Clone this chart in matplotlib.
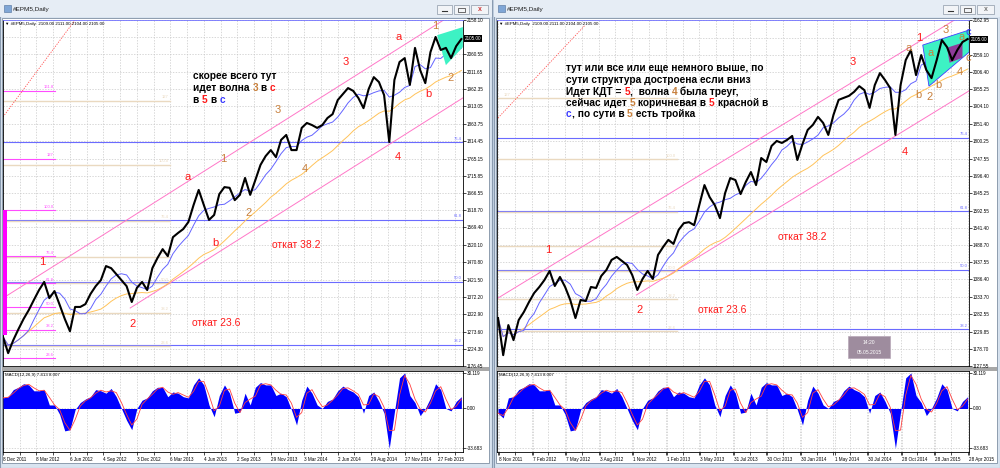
import numpy as np
import pandas as pd
import matplotlib
matplotlib.use("Agg")
import matplotlib.pyplot as plt
from matplotlib.patches import Rectangle, Polygon

plt.rcParams["font.family"] = ["Liberation Sans", "DejaVu Sans"]

W, H = 1000, 468
STEP = 10        # bars between two read values
PXB = 0.515      # screen pixels per bar

# ---- closes, one value every 10 bars ----
left_close = [1259, 1213, 1250, 1281, 1310, 1335, 1364, 1392, 1415, 1369,
              1389, 1350, 1310, 1275, 1344, 1344, 1352, 1381, 1403, 1420,
              1460, 1454, 1437, 1420, 1403, 1358, 1398, 1415, 1392, 1454,
              1483, 1508, 1488, 1542, 1554, 1565, 1585, 1633, 1676, 1633,
              1591, 1605, 1664, 1684, 1682, 1647, 1662, 1710, 1662, 1704,
              1747, 1772, 1789, 1769, 1818, 1832, 1789, 1789, 1852, 1866,
              1860, 1852, 1860, 1880, 1891, 1931, 1948, 1965, 1957, 1937,
              1908, 1962, 1996, 1982, 1945, 1812, 1988, 2039, 2050, 1974,
              2079, 2016, 1979, 2067, 2110, 2073, 2079, 2050, 2084, 2104]

right_close = [1271, 1160, 1250, 1205, 1265, 1289, 1319, 1346, 1364, 1385,
               1412, 1367, 1394, 1364, 1325, 1271, 1325, 1322, 1364, 1361,
               1397, 1415, 1445, 1454, 1442, 1430, 1400, 1355, 1388, 1412,
               1388, 1460, 1484, 1505, 1493, 1535, 1555, 1558, 1549, 1609,
               1669, 1633, 1609, 1570, 1645, 1690, 1684, 1642, 1678, 1708,
               1669, 1750, 1738, 1786, 1801, 1795, 1804, 1816, 1744, 1792,
               1834, 1849, 1873, 1855, 1819, 1879, 1924, 1930, 1936, 1948,
               1965, 1953, 1900, 1968, 2004, 1983, 1959, 1819, 1968, 2043,
               2073, 1998, 2058, 2013, 1989, 2043, 2103, 2082, 2043, 2073,
               2097, 2106]

left_macd = [9, 10, 16, 18, 21, 20, 15, 15, 16, 3,
             3, -5, -19, -18, -1, 5, 8, 10, 16, 15,
             13, 17, 10, 0, -10, -18, 0, 7, 9, 15,
             18, 18, 10, 14, 13, 10, 9, 20, 26, 20,
             3, -7, 11, 20, 13, -4, -3, 13, 3, 18,
             22, 20, 20, 11, 13, 10, -1, -14, 7, 19,
             13, 3, 0, 6, 8, 15, 19, 16, 14, 10,
             -4, 11, 14, 6, -4, -33.7, -3, 26, 30.1, 11,
             5, -6, 0, 9, 21, 16, 0, -2, 6, 10]

right_macd = [-4, -8, 9, 10, 16, 18, 21, 20, 15, 15,
              16, 3, 3, -5, -19, -18, -1, 5, 8, 10,
              16, 15, 13, 17, 10, 0, -10, -18, 0, 7,
              9, 15, 18, 18, 10, 14, 13, 10, 9, 20,
              26, 20, 3, -7, 11, 20, 13, -4, -3, 13,
              3, 18, 22, 20, 20, 11, 13, 10, -1, -14,
              7, 19, 13, 3, 0, 6, 8, 15, 19, 16,
              14, 10, -4, 11, 14, 6, -4, -33.7, -3, 26,
              30.1, 11, 5, -6, 0, 9, 21, 16, 0, -2,
              6, 10]

left_dates = ["8 Dec 2011", "8 Mar 2012", "6 Jun 2012", "4 Sep 2012", "3 Dec 2012",
              "6 Mar 2013", "4 Jun 2013", "2 Sep 2013", "29 Nov 2013", "3 Mar 2014",
              "2 Jun 2014", "29 Aug 2014", "27 Nov 2014", "27 Feb 2015"]
right_dates = ["8 Nov 2011", "7 Feb 2012", "7 May 2012", "3 Aug 2012", "1 Nov 2012",
               "1 Feb 2013", "3 May 2013", "31 Jul 2013", "30 Oct 2013", "30 Jan 2014",
               "1 May 2014", "30 Jul 2014", "28 Oct 2014", "28 Jan 2015", "28 Apr 2015"]

left_price_ticks = [2158.10, 2109.80, 2060.55, 2011.65, 1962.35, 1913.05, 1863.75,
                    1814.45, 1765.15, 1715.85, 1666.55, 1618.70, 1569.40, 1520.10,
                    1470.80, 1421.50, 1372.20, 1322.90, 1273.60, 1224.30, 1176.45]
right_price_ticks = [2162.95, 2110.25, 2059.10, 2006.40, 1955.25, 1904.10, 1851.40,
                     1800.25, 1747.55, 1696.40, 1645.25, 1592.55, 1541.40, 1488.70,
                     1437.55, 1386.40, 1333.70, 1282.55, 1229.85, 1178.70, 1127.55]
last_price = 2105.00
macd_ticks = [30.119, 0.0, -33.683]

blue_levels = [1811, 1591, 1416, 1237]
blue_names = ["76.4", "61.8", "50.0", "38.2"]
beige_levels = [1929, 1747, 1589, 1487, 1411, 1328, 1232]
beige_names = ["127", "100.0", "76.4", "61.8", "50.0", "38.2", "23.6"]
magenta_levels = [1957, 1764, 1619, 1488, 1412, 1344, 1279, 1199]
magenta_names = ["161.8", "127", "100.0", "76.4", "61.8", "50.0", "38.2", "23.6"]

# trend lines drawn on the charts: (bar, price) end points
left_channel = [[(0, 1369), (862, 2164)], [(247, 1341), (893, 1937)]]
right_channel = [[(0, 1331), (891, 2169)], [(268, 1340), (915, 1953)]]
left_dotted = [(0, 1883), (150, 2178)]
right_dotted = [(0, 1870), (169, 2148)]
left_wedge = [(843, 2115), (893, 2138), (893, 2081), (860, 2030)]
right_wedge = [(823, 2088), (913, 2133), (913, 2067), (835, 1965)]
right_purple = [(870, 2080), (900, 2095), (900, 2050), (875, 2035)]

RED, BROWN, BLUE = "#FF1A1A", "#C8803C", "#3A3AFF"

fig = plt.figure(figsize=(W / 100, H / 100), dpi=100, facecolor="#C5D3E3")


def px_axes(x0, y0, x1, y1):
    return fig.add_axes([x0 / W, 1 - y1 / H, (x1 - x0) / W, (y1 - y0) / H])


# window chrome
under = px_axes(0, 0, W, H)
under.set_xlim(0, W)
under.set_ylim(H, 0)
under.axis("off")
for wx0, wx1 in [(0, 492), (494, 1000)]:
    under.add_patch(Rectangle((wx0, 0), wx1 - wx0, H, fc="#D9E4F0", ec="#8A9BB0", lw=0.8))
    under.add_patch(Rectangle((wx0, 0), wx1 - wx0, 17, fc="#E6EDF5", ec="none"))
    under.add_patch(Rectangle((wx0 + 2, 18), wx1 - wx0 - 5, 445, fc="white", ec="#7F8FA3", lw=0.6))
    under.add_patch(Rectangle((wx0 + 2, 367), wx1 - wx0 - 5, 3.5, fc="#A8A8A8", ec="none"))


def price_panel(x0, x1, close, ylim, ticks, xlim):
    ax = px_axes(x0, 20, x1, 366)
    x = np.arange(len(close)) * STEP
    s = pd.Series(close, dtype=float)
    ax.plot(x, s.rolling(20, min_periods=1).mean(), color="#FFC35A", lw=0.7, zorder=3)
    ax.plot(x, s.rolling(5, min_periods=1).mean(), color="#6464FF", lw=0.7, zorder=3)
    ax.plot(x, close, color="black", lw=1.5, zorder=4)
    ax.set_xlim(*xlim)
    ax.set_ylim(*ylim)
    ax.set_xticks(np.arange(0, xlim[1], 32.5))
    ax.set_xticklabels([])
    ax.tick_params(axis="x", length=0)
    ax.yaxis.tick_right()
    ax.set_yticks(ticks)
    ax.set_yticklabels(["" if i == 1 else f"{t:.2f}" for i, t in enumerate(ticks)])
    ax.tick_params(axis="y", length=2, width=0.5, labelsize=3.3, pad=1)
    ax.grid(True, color="#C8C8C8", lw=0.5, ls=(0, (2, 2)))
    for sp in ax.spines.values():
        sp.set_linewidth(0.6)
    ax.spines["top"].set_color("#6F6FFF")
    ax.text(1.004, last_price, f"{last_price:.2f}", transform=ax.get_yaxis_transform(),
            fontsize=3.3, color="white", va="center", ha="left",
            bbox=dict(fc="black", ec="none", pad=0.8))
    ax.text(0.005, 0.993, "\u25bc #EPM5,Daily  2109.00 2111.00 2104.00 2105.00",
            transform=ax.transAxes, fontsize=3.2, va="top", ha="left")
    return ax


def add_levels(ax, levels, names, x_end, color, lw, label_x):
    x0, x1 = ax.get_xlim()
    if x_end is not None:
        x0, x1 = 0, x_end
    if np.isscalar(label_x):
        label_x = [label_x] * len(levels)
    for lv, nm, lx_ in zip(levels, names, label_x):
        ax.plot([x0, x1], [lv, lv], color=color, lw=lw, zorder=2)
        ax.text(lx_, lv + 4, nm, color=color, fontsize=3, ha="right", va="bottom", zorder=2)


def macd_panel(x0, x1, hist, xlim, dates, first_tick):
    ax = px_axes(x0, 371, x1, 452)
    x = np.arange(len(hist)) * STEP
    h = pd.Series(hist, dtype=float)
    ax.fill_between(x, 0, h, color="#0000FF", lw=0, zorder=3)
    ax.plot(x, h.rolling(2, min_periods=1).mean(), color="#FF4040", lw=0.6, zorder=4)
    ax.set_xlim(*xlim)
    ax.set_ylim(-36.9, 31.8)
    ax.set_xticks(np.arange(0, xlim[1], 32.5), minor=True)
    major = first_tick + np.arange(len(dates)) * 65
    ax.set_xticks(major)
    ax.set_xticklabels(dates)
    for lb in ax.get_xticklabels():
        lb.set_ha("left")
    ax.tick_params(axis="x", which="both", length=2, width=0.5, labelsize=3.3, pad=1.5)
    ax.yaxis.tick_right()
    ax.set_yticks(macd_ticks)
    ax.set_yticklabels(["30.119", "0.00", "-33.683"])
    ax.tick_params(axis="y", length=2, width=0.5, labelsize=3.3, pad=1)
    ax.grid(True, which="both", axis="x", color="#C8C8C8", lw=0.5, ls=(0, (2, 2)))
    ax.grid(True, axis="y", color="#C8C8C8", lw=0.5, ls=(0, (2, 2)))
    for sp in ax.spines.values():
        sp.set_linewidth(0.6)
    ax.text(0.005, 0.97, "MACD(12,26,9) 7.413 8.007", transform=ax.transAxes,
            fontsize=3.2, va="top", ha="left")
    return ax


# ---- left chart ----
lx = (0, 460 / PXB)
axl = price_panel(3, 463, left_close, (1176.45, 2158.10), left_price_ticks, lx)
add_levels(axl, blue_levels, blue_names, None, "#6B6BFF", 0.8, lx[1] - 2)
add_levels(axl, beige_levels, beige_names, 324, "#EAD9C0", 1.0, 322)
add_levels(axl, magenta_levels, magenta_names, 100, "#FF4CFF", 0.8, 98)
axl.add_patch(Rectangle((0, 1264), 7, 355, fc="#FF00FF", ec="none", zorder=3))
for seg in left_channel:
    axl.plot(*zip(*seg), color="#FF77C8", lw=0.7, zorder=2)
axl.plot(*zip(*left_dotted), color="#FF5050", lw=0.6, ls=(0, (1.5, 1.5)), zorder=2)
axl.add_patch(Polygon(left_wedge, fc="#3DF2C4", ec="none", zorder=3.5))
macd_panel(3, 463, left_macd, lx, left_dates, 0)

# ---- right chart ----
rx = (-2, 470 / PXB)
axr = price_panel(497, 969, right_close, (1127.55, 2162.95), right_price_ticks, rx)
add_levels(axr, blue_levels, blue_names, None, "#6B6BFF", 0.8, rx[1] - 2)
# the "127" tag sits under the note in the reference, so it goes to the left edge here
add_levels(axr, beige_levels, beige_names, 346, "#EAD9C0", 1.0, [24, 344, 344, 344, 344, 344, 344])
for seg in right_channel:
    axr.plot(*zip(*seg), color="#FF77C8", lw=0.7, zorder=2)
axr.plot(*zip(*right_dotted), color="#FF5050", lw=0.6, ls=(0, (1.5, 1.5)), zorder=2)
axr.add_patch(Polygon(right_wedge, fc="#3DF2C4", ec="#4040FF", lw=0.6, zorder=3.5))
axr.add_patch(Polygon(right_purple, fc="#8E3C9A", ec="none", zorder=3.6))
macd_panel(497, 969, right_macd, rx, right_dates, 2)

# ---- overlay: titles, buttons, hand-written notes ----
over = px_axes(0, 0, W, H)
over.set_xlim(0, W)
over.set_ylim(H, 0)
over.axis("off")
over.patch.set_alpha(0)

for tx in [4, 498]:
    over.add_patch(Rectangle((tx, 5), 7, 7, fc="#7FA6D6", ec="#4E6F99", lw=0.4))
    over.text(tx + 9, 10, "#EPM5,Daily", fontsize=4.6, va="center", ha="left", color="#1E1E1E")
for bx, active in [(437, True), (943, False)]:
    for k, wdt in enumerate([15, 15, 17]):
        x0 = bx + [0, 17, 34][k]
        over.add_patch(Rectangle((x0, 5), wdt, 9, fc="#F2F4F7", ec="#8D99A8", lw=0.5))
    over.plot([bx + 5, bx + 10], [11, 11], color="#333333", lw=0.8)
    over.add_patch(Rectangle((bx + 21, 7.5), 7, 4.5, fc="none", ec="#333333", lw=0.5))
    over.text(bx + 42.5, 9.7, "x", fontsize=5, ha="center", va="center",
              color="#D03A3A" if active else "#777777", fontweight="bold")


def rich(x, y, parts, size=7.3, weight="bold"):
    r = fig.canvas.get_renderer()
    ref = over.text(0, 0, "||", fontsize=size, fontweight=weight)
    wref = ref.get_window_extent(r).width
    ref.remove()
    for s, c in parts:
        over.text(x, y, s, color=c, fontsize=size, fontweight=weight, va="baseline", ha="left")
        t = over.text(0, 0, "|" + s + "|", fontsize=size, fontweight=weight)
        x += t.get_window_extent(r).width - wref
        t.remove()


K = "black"
rich(193, 79, [("скорее всего тут", K)])
rich(193, 91, [("идет волна ", K), ("3", BROWN), (" в ", K), ("с", RED)])
rich(193, 103, [("в ", K), ("5", RED), (" в ", K), ("с", BLUE)])

rich(566, 71, [("тут или все или еще немного выше, по", K)])
rich(566, 83, [("сути структура достроена если вниз", K)])
rich(566, 95, [("Идет КДТ = ", K), ("5", RED), (",  волна ", K), ("4", BROWN), (" была треуг,", K)])
rich(566, 106, [("сейчас идет ", K), ("5", BROWN), (" коричневая в ", K), ("5", RED), (" красной в", K)])
rich(566, 117, [("с", BLUE), (", по сути в ", K), ("5", BROWN), (" есть тройка", K)])

wave_labels = [
    ("1", 42, 262, RED), ("2", 133, 324, RED), ("a", 188, 177, RED), ("b", 215, 243, RED),
    ("3", 346, 62, RED), ("4", 398, 157, RED), ("a", 399, 37, RED), ("b", 428, 94, RED),
    ("1", 435, 26, BROWN), ("2", 451, 78, BROWN), ("3", 278, 110, BROWN),
    ("1", 223, 159, BROWN), ("2", 249, 213, BROWN), ("4", 305, 169, BROWN),
    ("1", 548, 250, RED), ("2", 640, 310, RED), ("3", 853, 62, RED), ("4", 905, 152, RED),
    ("1", 919, 38, RED), ("a", 909, 48, BROWN), ("b", 918, 95, BROWN), ("2", 930, 97, BROWN),
    ("a", 931, 53, BROWN), ("b", 938, 85, BROWN), ("3", 946, 30, BROWN), ("a", 962, 37, BROWN),
    ("c", 968, 58, BROWN), ("4", 960, 72, BROWN), ("c", 968, 32, BLUE),
]
for s, x, y, c in wave_labels:
    over.text(x, y, s, color=c, fontsize=8, ha="center", va="center")

for x, y, s in [(272, 245, "откат 38.2"), (192, 323, "откат 23.6"),
                (698, 310, "откат 23.6"), (778, 237, "откат 38.2")]:
    over.text(x, y, s, color=RED, fontsize=7.5, ha="left", va="center")

over.add_patch(Rectangle((848, 336), 42, 22, fc="#9E8C9E", ec="#B8A8B8", lw=0.5))
over.text(869, 342.5, "14:20", fontsize=3.6, color="white", ha="center", va="center")
over.text(869, 352, "05.05.2015", fontsize=3.6, color="white", ha="center", va="center")

fig.savefig("out.png", dpi=100, facecolor=fig.get_facecolor())
